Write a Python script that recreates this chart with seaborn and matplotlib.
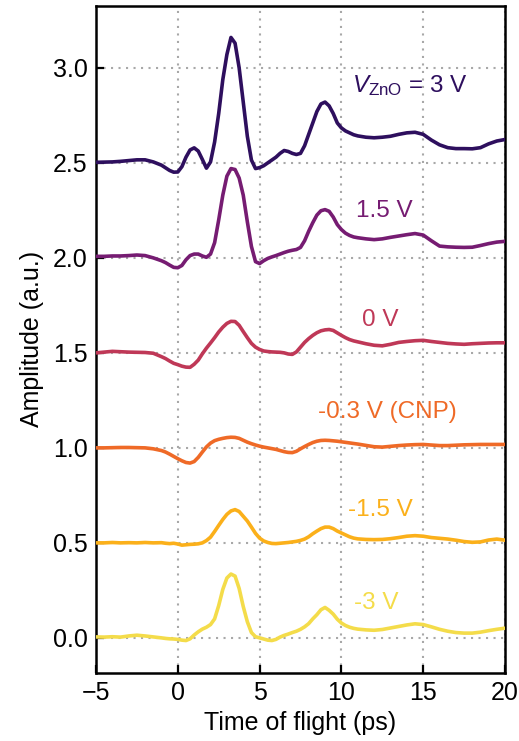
import numpy as np
import pandas as pd
import matplotlib
matplotlib.use("Agg")
import matplotlib.pyplot as plt
import seaborn as sns

# Sample times (ps): coarse in the flat pre-pulse and tail, fine across the pulses
time_ps = [-5, -4.5, -4, -3.5, -3, -2.5, -2, -1.5,
           -1, -0.75, -0.5, -0.25, 0, 0.25, 0.5, 0.75, 1, 1.25, 1.5, 1.75,
           2, 2.25, 2.5, 2.75, 3, 3.25, 3.5, 3.75, 4, 4.25, 4.5, 4.75,
           5, 5.25, 5.5, 5.75, 6, 6.25, 6.5, 6.75, 7, 7.25, 7.5, 7.75,
           8, 8.25, 8.5, 8.75, 9, 9.25, 9.5, 9.75, 10, 10.25, 10.5, 10.75, 11,
           11.5, 12, 12.5, 13, 13.5, 14, 14.5, 15, 15.5, 16, 16.5, 17, 17.5,
           18, 18.5, 19, 19.5, 20]

# THz transients for each gate voltage (baseline-subtracted, a.u.)
amp_3V = [0.003, 0.004, 0.005, 0.008, 0.012, 0.016, 0.016, 0.005,
          -0.012, -0.026, -0.04, -0.049, -0.048, -0.02, 0.03, 0.068, 0.079, 0.062, 0.018, -0.028,
          0.005, 0.11, 0.26, 0.438, 0.57, 0.66, 0.63, 0.50, 0.32, 0.14, 0.015, -0.03,
          -0.025, -0.015, 0.0, 0.015, 0.03, 0.05, 0.065, 0.06, 0.05, 0.044, 0.05, 0.09,
          0.15, 0.21, 0.27, 0.31, 0.32, 0.30, 0.26, 0.21, 0.184, 0.168, 0.158, 0.148, 0.142,
          0.135, 0.132, 0.135, 0.14, 0.15, 0.158, 0.161, 0.15, 0.12, 0.095, 0.08, 0.075, 0.075,
          0.074, 0.08, 0.10, 0.115, 0.123]

amp_1p5V = [0.008, 0.008, 0.01, 0.01, 0.012, 0.015, 0.012, 0.0,
            -0.015, -0.025, -0.038, -0.05, -0.052, -0.04, -0.01, 0.012, 0.02, 0.02, 0.01, 0.003,
            0.02, 0.08, 0.2, 0.33, 0.43, 0.47, 0.465, 0.42, 0.33, 0.19, 0.06, -0.02,
            -0.03, -0.015, -0.003, 0.005, 0.012, 0.02, 0.028, 0.035, 0.04, 0.044, 0.055, 0.09,
            0.14, 0.185, 0.225, 0.248, 0.254, 0.245, 0.215, 0.175, 0.149, 0.13, 0.118, 0.11, 0.106,
            0.1, 0.096, 0.1, 0.108, 0.115, 0.122, 0.128, 0.12, 0.09, 0.062, 0.058, 0.056, 0.055,
            0.056, 0.065, 0.075, 0.083, 0.087]

amp_0V = [0.0, 0.004, 0.008, 0.006, 0.004, 0.003, 0.002, -0.002,
          -0.02, -0.03, -0.043, -0.055, -0.062, -0.07, -0.075, -0.076, -0.06, -0.038, -0.005, 0.025,
          0.052, 0.08, 0.11, 0.135, 0.155, 0.166, 0.165, 0.145, 0.112, 0.08, 0.05, 0.03,
          0.018, 0.01, 0.007, 0.005, 0.004, 0.003, 0.0, -0.006, -0.008, 0.005, 0.03, 0.055,
          0.075, 0.092, 0.106, 0.116, 0.121, 0.123, 0.118, 0.105, 0.092, 0.08, 0.07, 0.063, 0.058,
          0.048, 0.04, 0.037, 0.045, 0.055, 0.06, 0.064, 0.066, 0.06, 0.055, 0.05, 0.047, 0.045,
          0.048, 0.05, 0.052, 0.053, 0.053]

amp_m0p3V = [0.0, 0.0, 0.001, 0.002, 0.002, 0.001, 0.0, -0.005,
             -0.014, -0.022, -0.033, -0.045, -0.057, -0.068, -0.077, -0.08, -0.072, -0.05, -0.022, 0.005,
             0.025, 0.038, 0.045, 0.05, 0.054, 0.056, 0.055, 0.05, 0.04, 0.03, 0.022, 0.015,
             0.009, 0.004, 0.0, -0.004, -0.008, -0.014, -0.02, -0.024, -0.025, -0.018, -0.005, 0.007,
             0.018, 0.028, 0.035, 0.039, 0.04, 0.039, 0.037, 0.035, 0.032, 0.029, 0.026, 0.023, 0.02,
             0.013, 0.006, 0.004, 0.008, 0.012, 0.015, 0.017, 0.018, 0.015, 0.012, 0.012, 0.014, 0.016,
             0.017, 0.018, 0.018, 0.018, 0.018]

amp_m1p5V = [0.0, 0.0, 0.002, 0.0, 0.001, 0.0, 0.002, 0.0,
             0.001, -0.002, -0.004, -0.002, -0.006, -0.012, -0.01, -0.008, -0.007, -0.005, 0.0, 0.012,
             0.03, 0.06, 0.092, 0.123, 0.15, 0.168, 0.175, 0.165, 0.14, 0.115, 0.083, 0.05,
             0.025, 0.01, 0.002, -0.003, -0.004, -0.002, 0.0, 0.002, 0.005, 0.008, 0.013, 0.02,
             0.032, 0.048, 0.062, 0.075, 0.083, 0.083, 0.075, 0.062, 0.052, 0.042, 0.032, 0.025, 0.021,
             0.018, 0.017, 0.018, 0.022, 0.028, 0.035, 0.038, 0.035, 0.028, 0.024, 0.02, 0.014, 0.007,
             0.003, 0.005, 0.015, 0.02, 0.014]

amp_m3V = [0.005, 0.004, 0.006, 0.004, 0.01, 0.014, 0.01, 0.005,
           0.0, -0.003, -0.005, -0.006, -0.008, -0.012, -0.014, -0.005, 0.015, 0.032, 0.046, 0.056,
           0.07, 0.1, 0.17, 0.255, 0.315, 0.336, 0.325, 0.26, 0.165, 0.085, 0.028, 0.006,
           0.0, -0.006, -0.012, -0.014, -0.008, 0.004, 0.013, 0.02, 0.028, 0.035, 0.045, 0.058,
           0.075, 0.1, 0.122, 0.148, 0.16, 0.145, 0.125, 0.098, 0.078, 0.065, 0.056, 0.05, 0.046,
           0.042, 0.04, 0.044, 0.052, 0.06, 0.068, 0.074, 0.07, 0.058, 0.045, 0.035, 0.028, 0.025,
           0.025, 0.03, 0.038, 0.045, 0.051]

labels = ["3 V", "1.5 V", "0 V", "-0.3 V (CNP)", "-1.5 V", "-3 V"]
offsets = [2.5, 2.0, 1.5, 1.0, 0.5, 0.0]
series = [amp_3V, amp_1p5V, amp_0V, amp_m0p3V, amp_m1p5V, amp_m3V]
colors = ["#2e0f5e", "#761c72", "#bf3857", "#ef6a27", "#fbb01a", "#f4dc4a"]

# Annotation text and anchor (time, amplitude) for each trace
label_text = [r"$V_{\mathregular{ZnO}}$ = 3 V", "1.5 V", "0 V", "-0.3 V (CNP)", "-1.5 V", "-3 V"]
label_pos = [(14.2, 2.905), (12.6, 2.245), (12.35, 1.675), (12.8, 1.19), (12.4, 0.675), (12.15, 0.185)]

frames = []
for lab, off, amp in zip(labels, offsets, series):
    frames.append(pd.DataFrame({"time": time_ps,
                                "amplitude": np.asarray(amp) + off,
                                "bias": lab}))
df = pd.concat(frames, ignore_index=True)

sns.set_style("ticks")
plt.rcParams["font.family"] = ["Liberation Sans", "DejaVu Sans"]
plt.rcParams["mathtext.fontset"] = "custom"
plt.rcParams["mathtext.rm"] = "Liberation Sans"
plt.rcParams["mathtext.it"] = "Liberation Sans:italic"
plt.rcParams["text.color"] = "black"
plt.rcParams["axes.labelcolor"] = "black"
plt.rcParams["xtick.color"] = "black"
plt.rcParams["ytick.color"] = "black"

fig, ax = plt.subplots(figsize=(5.19, 7.41), dpi=100)
fig.subplots_adjust(left=0.185, right=0.973, top=0.992, bottom=0.092)

sns.lineplot(data=df, x="time", y="amplitude", hue="bias", hue_order=labels,
             palette=dict(zip(labels, colors)), estimator=None, sort=False,
             linewidth=2.6, legend=False, ax=ax, zorder=3)

for txt, (tx, ty), c in zip(label_text, label_pos, colors):
    ax.text(tx, ty, txt, color=c, fontsize=17.5, ha="center", va="center")

ax.set_xlim(-5, 20)
ax.set_ylim(-0.184, 3.326)
ax.set_xticks([-5, 0, 5, 10, 15, 20])
ax.set_yticks([0.0, 0.5, 1.0, 1.5, 2.0, 2.5, 3.0])
ax.set_yticklabels(["0.0", "0.5", "1.0", "1.5", "2.0", "2.5", "3.0"])
ax.grid(True, color="#a8a8a8", linestyle=(0, (1, 2.6)), linewidth=1.5, zorder=0)
ax.set_axisbelow(True)

ax.tick_params(direction="in", length=6, width=1.6, labelsize=18, pad=6,
               colors="black", labelcolor="black")
for sp in ax.spines.values():
    sp.set_linewidth(1.8)
    sp.set_color("black")

ax.set_xlabel("Time of flight (ps)", fontsize=18, labelpad=4, color="black")
ax.set_ylabel("Amplitude (a.u.)", fontsize=18, labelpad=6, color="black")

fig.savefig("out.png", dpi=100)
